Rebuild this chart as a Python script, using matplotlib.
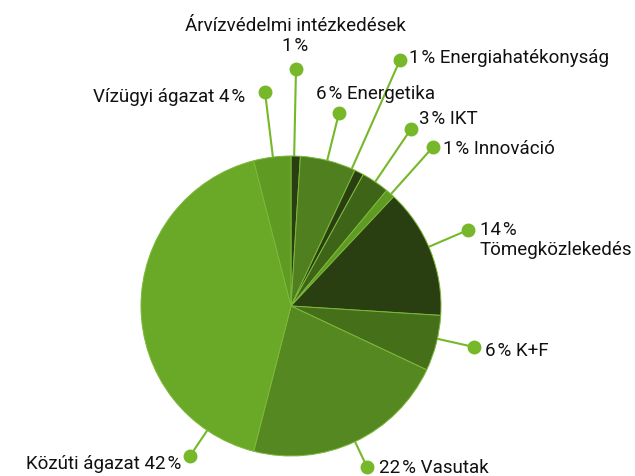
import numpy as np
import matplotlib
matplotlib.use("Agg")
import matplotlib.pyplot as plt

labels = ["Árvízvédelmi intézkedések", "Energetika", "Energiahatékonyság", "IKT",
          "Innováció", "Tömegközlekedés", "K+F", "Vasutak", "Közúti ágazat", "Vízügyi ágazat"]
shares = [1, 6, 1, 3, 1, 14, 6, 22, 42, 4]
colors = ["#2a3f11", "#4f7f1e", "#2a3f11", "#3e6418", "#5f9a22",
          "#2a3f11", "#466f19", "#558820", "#6aa927", "#5f9a22"]

W, H = 635, 477
CX, CY, R = 291, 307, 150
GREEN = "#76b82a"
TS = "\u200a"  # hair space before %

# label layout in pixel coords: dot position, text position, alignment, template
layout = [
    ((296, 70), (295, 36), "center", "{l}\n{v}"),
    ((339, 114), (316, 94), "left", "{v} {l}"),
    ((400, 61), (409, 58), "left", "{v} {l}"),
    ((411, 130), (419, 119), "left", "{v} {l}"),
    ((433, 148), (443, 149), "left", "{v} {l}"),
    ((468, 231), (480, 240), "left", "{v}\n{l}"),
    ((474, 348), (485, 351), "left", "{v} {l}"),
    ((367, 468), (379, 468), "left", "{v} {l}"),
    ((190, 457), (181, 464), "right", "{l} {v}"),
    ((265, 93), (245, 97), "right", "{l} {v}"),
]

plt.rcParams["font.family"] = ["Roboto", "DejaVu Sans"]
fig = plt.figure(figsize=(W / 100, H / 100), dpi=100)
ax = fig.add_axes([0, 0, 1, 1])

wedges, _ = ax.pie(shares, colors=colors, startangle=90, counterclock=False,
                   center=(CX, H - CY), radius=R,
                   wedgeprops=dict(edgecolor="#7cb83a", linewidth=0.7, zorder=3))
ax.set_xlim(0, W)
ax.set_ylim(0, H)
ax.set_aspect("equal")
ax.axis("off")

for lab, val, (dot, tpos, ha, tmpl) in zip(labels, shares, layout):
    dx, dy = dot[0] - CX, dot[1] - CY
    d = np.hypot(dx, dy)
    ex, ey = CX + R * dx / d, CY + R * dy / d
    ax.plot([ex, dot[0]], [H - ey, H - dot[1]], color=GREEN, lw=1.5, zorder=2)
    ax.plot(dot[0], H - dot[1], "o", color=GREEN, ms=9, zorder=4)
    txt = tmpl.format(l=lab, v=f"{val}{TS}%")
    ax.text(tpos[0], H - tpos[1], txt, ha=ha, va="center", fontsize=13.5,
            color="#111111", linespacing=1.1, multialignment=ha)

fig.savefig("out.png", dpi=100)
